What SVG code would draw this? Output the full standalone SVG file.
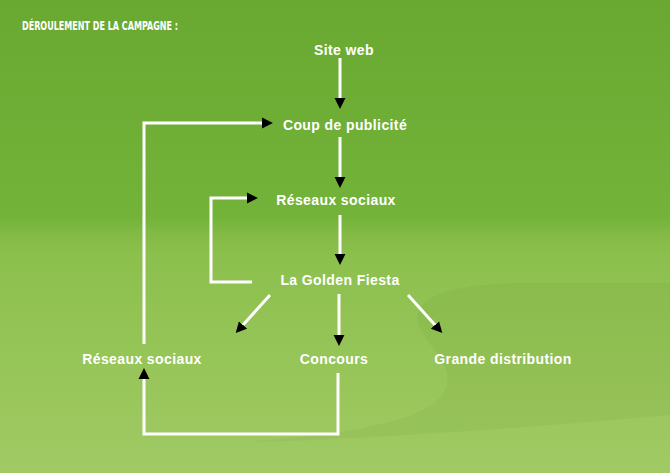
<svg xmlns="http://www.w3.org/2000/svg" width="670" height="473" viewBox="0 0 670 473">
<defs>
<linearGradient id="bg" x1="0" y1="0" x2="0" y2="1">
<stop offset="0" stop-color="#6aa931"/>
<stop offset="0.46" stop-color="#74b33a"/>
<stop offset="0.5" stop-color="#84bb46"/>
<stop offset="0.54" stop-color="#8cc04d"/>
<stop offset="1" stop-color="#a1ca64"/>
</linearGradient>
<marker id="ah" markerUnits="userSpaceOnUse" markerWidth="12" markerHeight="12" refX="0" refY="5" orient="auto" viewBox="0 0 11 10">
<path d="M0,0 L10,5 L0,10 Z" fill="#000"/>
</marker>
<style>
.lbl{font-family:"Liberation Sans",Arial,sans-serif;font-weight:bold;font-size:14px;letter-spacing:0.4px;fill:#fff;text-anchor:middle}
.ttl{font-family:"Liberation Sans Narrow","DejaVu Sans Condensed",sans-serif;font-weight:bold;font-size:12px;fill:#fff}
.c{fill:none;stroke:#fff;stroke-width:3}
.a{marker-end:url(#ah)}
</style>
</defs>
<rect x="0" y="0" width="670" height="473" fill="url(#bg)"/>
<path d="M670,283 L520,283 C455,284 412,296 418,322 C424,345 452,360 447,385 C440,412 390,425 330,433 C300,437 270,440 250,442 C350,440 500,430 670,415 Z" fill="#3d6a10" opacity="0.06"/>
<text class="ttl" x="22" y="30" textLength="156" lengthAdjust="spacingAndGlyphs">DÉROULEMENT DE LA CAMPAGNE :</text>
<g id="connectors">
<line class="c a" x1="340" y1="58" x2="340" y2="98"/>
<line class="c a" x1="340" y1="137" x2="340" y2="177"/>
<line class="c a" x1="340" y1="215" x2="340" y2="254"/>
<polyline class="c a" points="252,282 211,282 211,198 247,198"/>
<polyline class="c a" points="144,344 144,123 262,123"/>
<polyline class="c a" points="338,373 338,434 144,434 144,379"/>
<line class="c a" x1="270" y1="295" x2="243" y2="325"/>
<line class="c a" x1="339" y1="294" x2="339" y2="335"/>
<line class="c a" x1="408" y1="295" x2="435" y2="325"/>
</g>
<g id="site-web"><text class="lbl" x="344" y="55">Site web</text></g>
<g id="coup-de-publicite"><text class="lbl" x="345" y="130">Coup de publicité</text></g>
<g id="reseaux-sociaux-1"><text class="lbl" x="336" y="205">Réseaux sociaux</text></g>
<g id="golden-fiesta"><text class="lbl" x="340" y="285">La Golden Fiesta</text></g>
<g id="reseaux-sociaux-2"><text class="lbl" x="142" y="364">Réseaux sociaux</text></g>
<g id="concours"><text class="lbl" x="334" y="364">Concours</text></g>
<g id="grande-distribution"><text class="lbl" x="503" y="364">Grande distribution</text></g>
</svg>
